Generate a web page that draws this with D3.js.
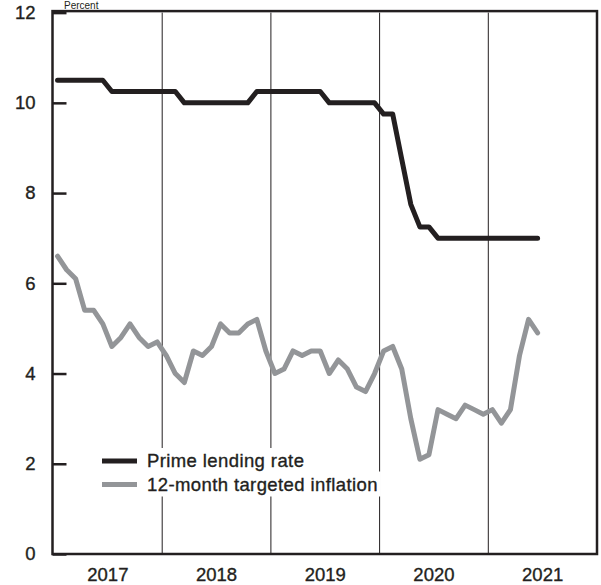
<!DOCTYPE html>
<html>
<head>
<meta charset="utf-8">
<script src="https://cdn.jsdelivr.net/npm/d3@7"></script>
<style>
  html, body { margin: 0; padding: 0; background: #fff; }
  svg text { font-family: "Liberation Sans", Arial, Helvetica, sans-serif; fill: #231f20; }
  .heavy { stroke: #231f20; stroke-width: 0.35px; }
</style>
</head>
<body>
<svg id="chart" width="601" height="585"></svg>
<script>
// ---- Data (monthly, Jan 2017 – Jun 2021) ----
const years = ["2017", "2018", "2019", "2020", "2021"];
const yTicks = [0, 2, 4, 6, 8, 10, 12];
const seriesNames = ["Prime lending rate", "12-month targeted inflation"];
const unitLabel = "Percent";

const primeRate = [
  10.5, 10.5, 10.5, 10.5, 10.5, 10.5, 10.25, 10.25, 10.25, 10.25, 10.25, 10.25,
  10.25, 10.25, 10.0, 10.0, 10.0, 10.0, 10.0, 10.0, 10.0, 10.0, 10.25, 10.25,
  10.25, 10.25, 10.25, 10.25, 10.25, 10.25, 10.0, 10.0, 10.0, 10.0, 10.0, 10.0,
  9.75, 9.75, 8.75, 7.75, 7.25, 7.25, 7.0, 7.0, 7.0, 7.0, 7.0, 7.0,
  7.0, 7.0, 7.0, 7.0, 7.0, 7.0
];
const inflation = [
  6.6, 6.3, 6.1, 5.4, 5.4, 5.1, 4.6, 4.8, 5.1, 4.8, 4.6, 4.7,
  4.4, 4.0, 3.8, 4.5, 4.4, 4.6, 5.1, 4.9, 4.9, 5.1, 5.2, 4.5,
  4.0, 4.1, 4.5, 4.4, 4.5, 4.5, 4.0, 4.3, 4.1, 3.7, 3.6, 4.0,
  4.5, 4.6, 4.1, 3.0, 2.1, 2.2, 3.2, 3.1, 3.0, 3.3, 3.2, 3.1,
  3.2, 2.9, 3.2, 4.4, 5.2, 4.9
];

// ---- Layout ----
const mLeft = 53, mRight = 596.5, mTop = 12.6, mBottom = 554;
const ink = "#231f20", grey = "#939598";
const fs = 18.5;

const svg = d3.select("#chart");

const x = d3.scaleLinear().domain([0, years.length * 12]).range([mLeft, mRight]);
const y = d3.scaleLinear().domain([0, 12]).range([mBottom, mTop]);

// Year separators (vertical rules)
const sepAxis = d3.axisBottom(x)
  .tickValues(d3.range(1, years.length).map(i => i * 12))
  .tickSize(-(mBottom - mTop))
  .tickFormat("");
const sepG = svg.append("g").attr("transform", `translate(0,${mBottom})`).call(sepAxis);
sepG.select(".domain").remove();
sepG.selectAll(".tick line").attr("stroke", ink).attr("stroke-width", 1);

// Year labels
const yearAxis = d3.axisBottom(x)
  .tickValues(years.map((d, i) => i * 12 + 6))
  .tickFormat((d, i) => years[i])
  .tickSize(0)
  .tickPadding(13.4);
const yearG = svg.append("g").attr("transform", `translate(0,${mBottom})`).call(yearAxis);
yearG.select(".domain").remove();
yearG.attr("font-family", null).attr("font-size", null);
yearG.selectAll("text").attr("font-size", fs).attr("fill", ink).attr("class", "heavy");

// Y axis with inward ticks
const yAxis = d3.axisLeft(y)
  .tickValues(yTicks)
  .tickSize(-14)
  .tickPadding(17);
const yG = svg.append("g").attr("transform", `translate(${mLeft - 0.5},0)`).call(yAxis);
yG.select(".domain").remove();
yG.attr("font-family", null).attr("font-size", null);
yG.selectAll(".tick line").attr("stroke", ink).attr("stroke-width", 2.5);
yG.selectAll("text").attr("font-size", fs).attr("fill", ink).attr("class", "heavy");

// Unit label (mostly cropped in the reference; kept small and visible)
svg.append("text").attr("x", 64).attr("y", 8.5).attr("font-size", 10).attr("fill", ink).text(unitLabel);

// Lines
const line = d3.line().x((d, i) => x(i + 0.5)).y(d => y(d));

const legendRows = [
  { name: seriesNames[0], color: ink, yy: 461 },
  { name: seriesNames[1], color: grey, yy: 484.5 }
];

svg.append("path").datum(inflation)
  .attr("d", line).attr("fill", "none").attr("stroke", grey)
  .attr("stroke-width", 5).attr("stroke-linejoin", "round").attr("stroke-linecap", "round");

svg.append("path").datum(primeRate)
  .attr("d", line).attr("fill", "none").attr("stroke", ink)
  .attr("stroke-width", 5).attr("stroke-linejoin", "round").attr("stroke-linecap", "round");

// Legend with white knock-out behind each row
const lg = svg.append("g");
legendRows.forEach(r => {
  const t = lg.append("text").attr("x", 147).attr("y", r.yy + 6.2)
    .attr("font-size", fs).attr("letter-spacing", 0.4).attr("class", "heavy").text(r.name);
  const bb = t.node().getBBox();
  lg.insert("rect", "text").attr("x", 98).attr("y", r.yy - 13)
    .attr("width", bb.x + bb.width + 3 - 98).attr("height", 25).attr("fill", "#fff");
  lg.append("line").attr("x1", 102).attr("x2", 137).attr("y1", r.yy).attr("y2", r.yy)
    .attr("stroke", r.color).attr("stroke-width", 5);
});

// Frame
svg.append("rect").attr("x", mLeft - 0.5).attr("y", mTop - 1.5)
  .attr("width", mRight - mLeft + 1).attr("height", mBottom - mTop + 1.5)
  .attr("fill", "none").attr("stroke", ink).attr("stroke-width", 2.5);
</script>
</body>
</html>
